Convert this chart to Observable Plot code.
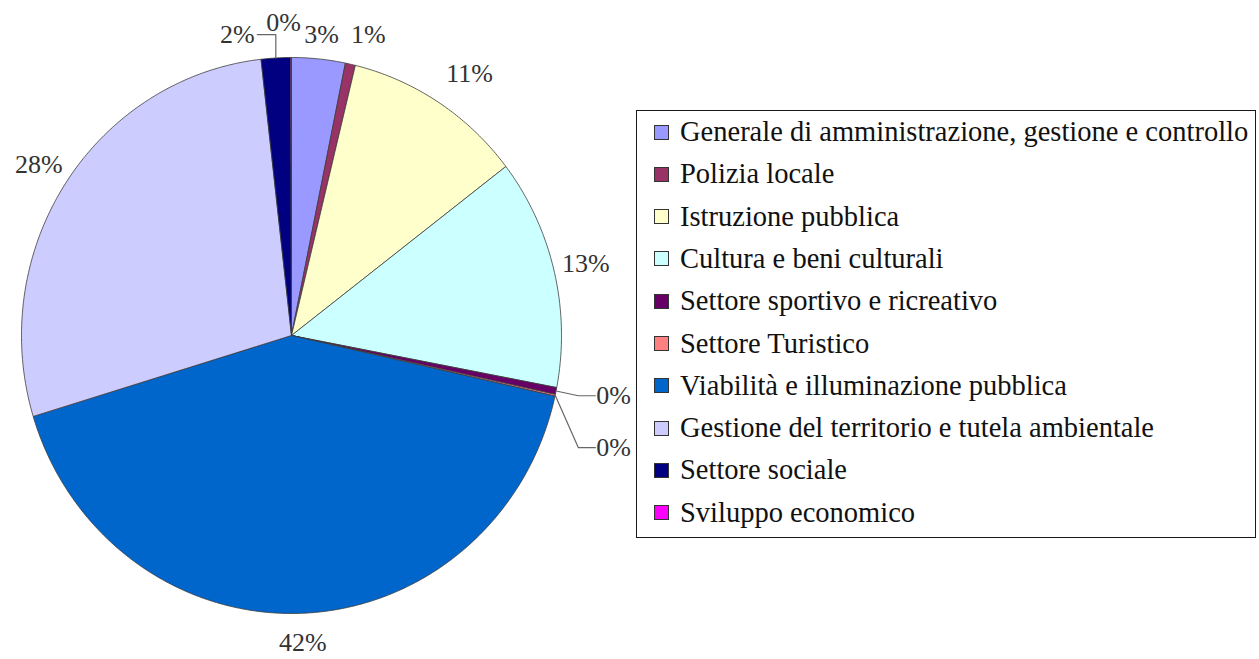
<!DOCTYPE html>
<html>
<head>
<meta charset="utf-8">
<script src="https://cdn.jsdelivr.net/npm/d3@7"></script>
<script src="https://cdn.jsdelivr.net/npm/@observablehq/plot@0.6"></script>
<style>
  html, body { margin: 0; padding: 0; background: #fff; }
  #wrap { position: relative; width: 1259px; height: 659px; overflow: hidden; background: #fff; }
  #chart { position: absolute; left: 0; top: 0; }
  #legend {
    position: absolute; left: 636px; top: 110px; width: 620px; height: 428px;
    box-sizing: border-box; border: 1.5px solid #1a1a1a; background: #fff;
    font-family: "Liberation Serif", "Times New Roman", Times, serif; font-size: 28.5px; color: #111;
  }
  .row { position: absolute; left: 0; height: 42px; display: flex; align-items: center; white-space: nowrap; }
  .sw { width: 13px; height: 13px; border: 1px solid #333; margin-left: 17px; margin-right: 11px; flex: none; }
</style>
</head>
<body>
<div id="wrap">
  <div id="chart"></div>
  <div id="legend"></div>
</div>
<script>
// ---- data ----
const categories = [
  "Generale di amministrazione, gestione e controllo",
  "Polizia locale",
  "Istruzione pubblica",
  "Cultura e beni culturali",
  "Settore sportivo e ricreativo",
  "Settore Turistico",
  "Viabilità e illuminazione pubblica",
  "Gestione del territorio e tutela ambientale",
  "Settore sociale",
  "Sviluppo economico"
];
const shares = [3.2, 0.6, 10.8, 13.4, 0.4, 0.1, 41.8, 27.9, 1.75, 0.05];
const palette = ["#9999FF", "#993366", "#FFFFCC", "#CCFFFF", "#660066", "#FF8080", "#0066CC", "#CCCCFF", "#000080", "#FF00FF"];

// ---- layout (label placement for crowded slices: polar angle in degrees, radius) ----
const moved = {
  "Settore sportivo e ricreativo": {angle: 100.3, r: 1.212, leader: "right"},
  "Settore Turistico": {angle: 108.7, r: 1.259, leader: "right"},
  "Settore sociale": {angle: -10.5, r: 1.101, leader: "up"},
  "Sviluppo economico": {angle: -1.5, r: 1.125, leader: null},
  "Polizia locale": {angle: 14.7, r: 1.12, leader: null},
  "Istruzione pubblica": {angle: 35, r: 1.15, leader: null},
  "Generale di amministrazione, gestione e controllo": {angle: 5.9, r: 1.087, leader: null},
  "Viabilità e illuminazione pubblica": {angle: 177.8, r: 1.105, leader: null}
};
const serif = "'Liberation Serif', 'Times New Roman', Times, serif";

const total = d3.sum(shares);
const rad = d => d * Math.PI / 180;
const slices = [];
const labelData = [];
const leaders = [];
let acc = 0;
categories.forEach((cat, i) => {
  const a0 = acc / total * 2 * Math.PI;
  acc += shares[i];
  const a1 = acc / total * 2 * Math.PI;
  const n = Math.max(2, Math.ceil((a1 - a0) / (Math.PI / 360)));
  slices.push({cat, x: 0, y: 0});
  for (let k = 0; k <= n; k++) {
    const a = a0 + (a1 - a0) * k / n;
    slices.push({cat, x: Math.sin(a), y: Math.cos(a)});
  }
  slices.push({cat, x: 0, y: 0});

  const mid = (a0 + a1) / 2;
  const m = moved[cat];
  const ang = m ? rad(m.angle) : mid;
  const r = m ? m.r : 1.12;
  const lx = r * Math.sin(ang), ly = r * Math.cos(ang);
  labelData.push({cat, x: lx, y: ly, text: Math.round(shares[i] / total * 100) + "%"});
  if (m && m.leader) {
    const sx = Math.sin(mid), sy = Math.cos(mid);
    if (m.leader === "right") {
      leaders.push({cat, x: sx, y: sy}, {cat, x: lx - 0.13, y: ly}, {cat, x: lx - 0.067, y: ly});
    } else {
      leaders.push({cat, x: sx, y: sy}, {cat, x: sx, y: ly}, {cat, x: lx + 0.074, y: ly});
    }
  }
});

const chart = Plot.plot({
  width: 625,
  height: 659,
  margin: 0,
  x: {domain: [-1, 1], range: [21, 561], axis: null},
  y: {domain: [-1, 1], range: [613, 57], axis: null},
  color: {type: "ordinal", domain: categories, range: palette},
  style: {background: "white", fontFamily: serif, overflow: "visible"},
  marks: [
    Plot.line(slices, {x: "x", y: "y", z: "cat", fill: "cat", stroke: "#3c3c3c", strokeWidth: 0.8, strokeLinejoin: "round", curve: "linear"}),
    Plot.line(leaders, {x: "x", y: "y", z: "cat", stroke: "#666", strokeWidth: 1.2, curve: "linear"}),
    Plot.text(labelData, {x: "x", y: "y", text: "text", fontSize: 26, fill: "#333", fontFamily: serif})
  ]
});
document.getElementById("chart").appendChild(chart);

// ---- legend ----
const legend = document.getElementById("legend");
categories.forEach((cat, i) => {
  const row = document.createElement("div");
  row.className = "row";
  row.style.top = (i * 42.3) + "px";
  const sw = document.createElement("span");
  sw.className = "sw";
  sw.style.background = palette[i];
  const t = document.createElement("span");
  t.textContent = cat;
  row.appendChild(sw);
  row.appendChild(t);
  legend.appendChild(row);
});
</script>
</body>
</html>
